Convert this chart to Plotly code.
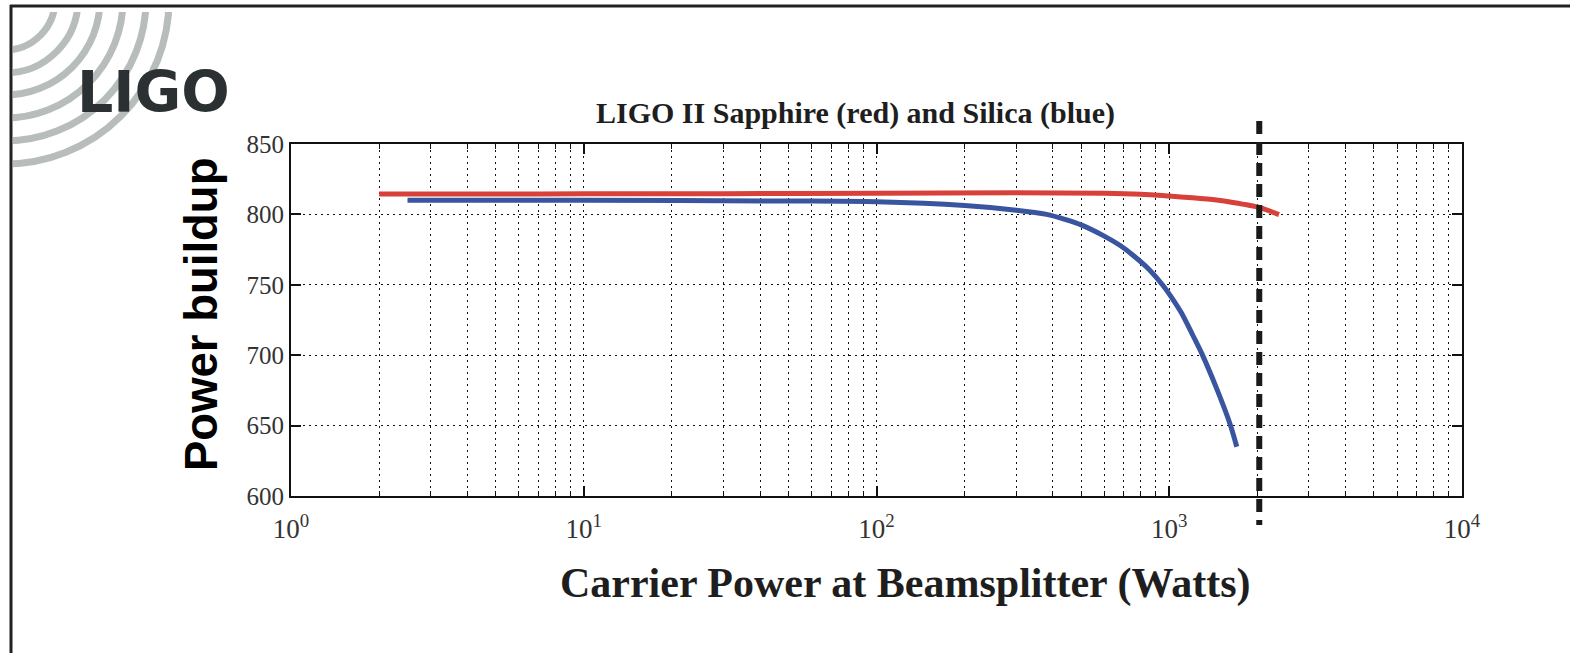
import math
import plotly.graph_objects as go

# ---- data ----
red_x = [2, 5, 10, 30, 100, 300, 600, 800, 1000, 1200, 1450, 1650, 2030, 2370]
red_y = [814.5, 814.5, 814.6, 814.7, 815.0, 815.3, 815.0, 814.3, 813.0, 811.8, 810.2, 808.5, 805.0, 799.8]

blue_x = [2.5, 10, 50, 100, 200, 300, 381, 440, 500, 600, 680, 750, 850, 952, 1030,
          1100, 1200, 1291, 1450, 1614, 1701]
blue_y = [810.0, 810.0, 809.5, 809.0, 806.3, 803.0, 800.0, 796.5, 792.6, 784.6, 777.9,
          771.2, 761.3, 749.5, 739.5, 730.1, 714.7, 701.3, 676.6, 651.0, 635.0]

dash_x = 2030  # vertical dashed marker (Watts)

x_tickvals = [1, 10, 100, 1000, 10000]
x_ticktext = ["10<sup>0</sup>", "10<sup>1</sup>", "10<sup>2</sup>", "10<sup>3</sup>", "10<sup>4</sup>"]
x_minor = [k * 10 ** d for d in range(0, 4) for k in range(2, 10)]
y_tickvals = [600, 650, 700, 750, 800, 850]

title_text = "LIGO II Sapphire (red) and Silica (blue)"
x_title = "Carrier Power at Beamsplitter (Watts)"
y_title = "Power buildup"
logo_text = "LIGO"

# ---- geometry ----
W, H = 1570, 653
L, R, T, B = 291, 1462, 144, 496


def px(x):
    return (x - L) / (R - L)


def py(y):
    return (B - y) / (B - T)


fig = go.Figure()
fig.add_trace(go.Scatter(x=red_x, y=red_y, mode="lines",
                         line=dict(color="#d8403a", width=5, shape="spline", smoothing=0.6),
                         showlegend=False))
fig.add_trace(go.Scatter(x=blue_x, y=blue_y, mode="lines",
                         line=dict(color="#3a55a0", width=5, shape="spline", smoothing=0.8),
                         showlegend=False))

shapes = []
# logo arcs
for r in [50, 73, 95, 118, 141, 164]:
    shapes.append(dict(type="circle", xref="paper", yref="paper",
                       xsizemode="pixel", ysizemode="pixel",
                       xanchor=px(5), yanchor=py(0),
                       x0=-r, x1=r, y0=-r, y1=r,
                       line=dict(color="#b6bdba", width=7), layer="above"))
# white masks at the edges (clip the arcs)
shapes.append(dict(type="rect", xref="paper", yref="paper",
                   x0=px(0), x1=px(13), y0=py(0), y1=py(H),
                   fillcolor="white", line=dict(width=0), layer="above"))
shapes.append(dict(type="rect", xref="paper", yref="paper",
                   x0=px(0), x1=px(W), y0=py(0), y1=py(12),
                   fillcolor="white", line=dict(width=0), layer="above"))
# frame lines
shapes.append(dict(type="line", xref="paper", yref="paper",
                   x0=px(11), x1=px(11), y0=py(5), y1=py(H + 5),
                   line=dict(color="#222222", width=3), layer="above"))
shapes.append(dict(type="line", xref="paper", yref="paper",
                   x0=px(10), x1=px(W), y0=py(6), y1=py(6),
                   line=dict(color="#222222", width=3), layer="above"))
# dashed vertical marker
dx = math.log10(dash_x) / 4.0
shapes.append(dict(type="line", xref="paper", yref="paper",
                   x0=dx, x1=dx, y0=py(121), y1=py(525),
                   line=dict(color="#1a1a1a", width=6, dash="13px,8px"), layer="above"))

annotations = [
    dict(text="<b>" + title_text + "</b>", x=px(855), y=py(113), xref="paper", yref="paper",
         showarrow=False, xanchor="center", yanchor="middle",
         font=dict(family="Liberation Serif", size=30, color="#1e1e1e")),
    dict(text="<b>" + x_title + "</b>", x=px(905), y=py(583), xref="paper", yref="paper",
         showarrow=False, xanchor="center", yanchor="middle",
         font=dict(family="Liberation Serif", size=42, color="#1e1e1e")),
    dict(text="<b>" + y_title + "</b>", x=px(201), y=py(315), xref="paper", yref="paper",
         showarrow=False, xanchor="center", yanchor="middle", textangle=-90,
         font=dict(family="Liberation Sans", size=45.5, color="#000000")),
    dict(text="<b>" + logo_text + "</b>", x=px(75), y=py(92), xref="paper", yref="paper",
         showarrow=False, xanchor="left", yanchor="middle",
         font=dict(family="DejaVu Sans", size=57, color="#2b3133")),
]

grid_dash = "2px,4px"
fig.update_layout(
    width=W, height=H,
    margin=dict(l=L, r=W - R, t=T, b=H - B, pad=0),
    paper_bgcolor="white", plot_bgcolor="white",
    shapes=shapes, annotations=annotations,
    showlegend=False,
    xaxis=dict(type="log", range=[0, 4], tickmode="array",
               tickvals=x_tickvals, ticktext=x_ticktext,
               ticks="inside", ticklen=10, tickwidth=2, tickcolor="#111",
               showline=True, linecolor="#111", linewidth=2, mirror="ticks",
               showgrid=True, gridcolor="#111", gridwidth=1, griddash=grid_dash,
               minor=dict(tickmode="array", tickvals=x_minor, ticks="inside", ticklen=5,
                          tickwidth=1, tickcolor="#111", showgrid=True, gridcolor="#111",
                          gridwidth=1, griddash=grid_dash),
               tickfont=dict(family="Liberation Serif", size=27, color="#333"),
               ticklabelstandoff=8,
               zeroline=False),
    yaxis=dict(range=[600, 850], tickmode="array", tickvals=y_tickvals,
               ticks="inside", ticklen=10, tickwidth=2, tickcolor="#111",
               showline=True, linecolor="#111", linewidth=2, mirror="ticks",
               showgrid=True, gridcolor="#111", gridwidth=1, griddash=grid_dash,
               tickfont=dict(family="Liberation Serif", size=25, color="#333"),
               zeroline=False),
)

fig.write_html("out.html")
